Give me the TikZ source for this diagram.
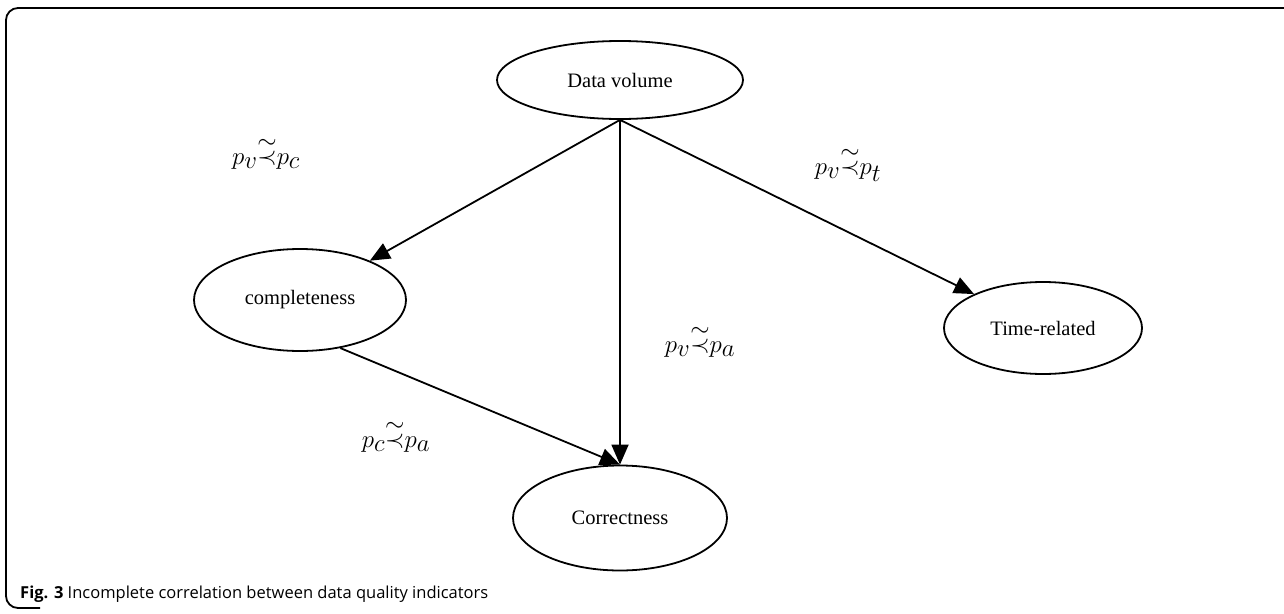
\documentclass[tikz,border=0pt]{standalone}
\usepackage{fontspec}
\setmainfont{Liberation Serif}
\newfontfamily\capfont{Open Sans}
\usetikzlibrary{shapes.geometric,arrows.meta,positioning}

\newcommand{\tprec}{\mathord{\stackrel{\sim}{\prec}}}

\begin{document}
\begin{tikzpicture}[
  x=1pt, y=-1pt,
  ell/.style={ellipse, draw, line width=1.8pt, inner sep=0pt, font=\fontsize{20.5}{25}\selectfont},
  arr/.style={-{Triangle[length=20pt,width=17pt]}, line width=1.8pt},
  rel/.style={font=\fontsize{33}{38}\selectfont}
]
\useasboundingbox (0,0) rectangle (1284,613);
% frame
\draw[line width=1.8pt, rounded corners=12pt] (1290,8) -- (6,8) -- (6,608) -- (40,608);

% quality indicators
\node[ell, minimum width=246pt, minimum height=78pt]  (dv) at (620,80)  {Data volume};
\node[ell, minimum width=212pt, minimum height=102pt] (cp) at (300,300) {completeness};
\node[ell, minimum width=198pt, minimum height=92pt]  (tr) at (1043,328) {Time-related};
\node[ell, minimum width=214pt, minimum height=105pt] (cr) at (620,518) {Correctness};

\draw[arr] (dv.south) -- (cp);
\draw[arr] (dv.south) -- (tr);
\draw[arr] (dv.south) -- (cr.north);
\draw[arr] (cp.-50)   -- (cr.north);

% relations
\node[rel] (rvc) at (266,154) {$p_v\tprec p_c$};
\node[rel] (rvt) at (848,165) {$p_v\tprec p_t$};
\node[rel] (rva) at (700,342) {$p_v\tprec p_a$};
\node[rel] (rca) at (396,437) {$p_c\tprec p_a$};

\node[anchor=base west, inner sep=0pt, font=\capfont\fontsize{16.5}{20}\selectfont] (cap) at (20,598)
  {\textbf{Fig. 3} Incomplete correlation between data quality indicators};
\end{tikzpicture}
\end{document}
